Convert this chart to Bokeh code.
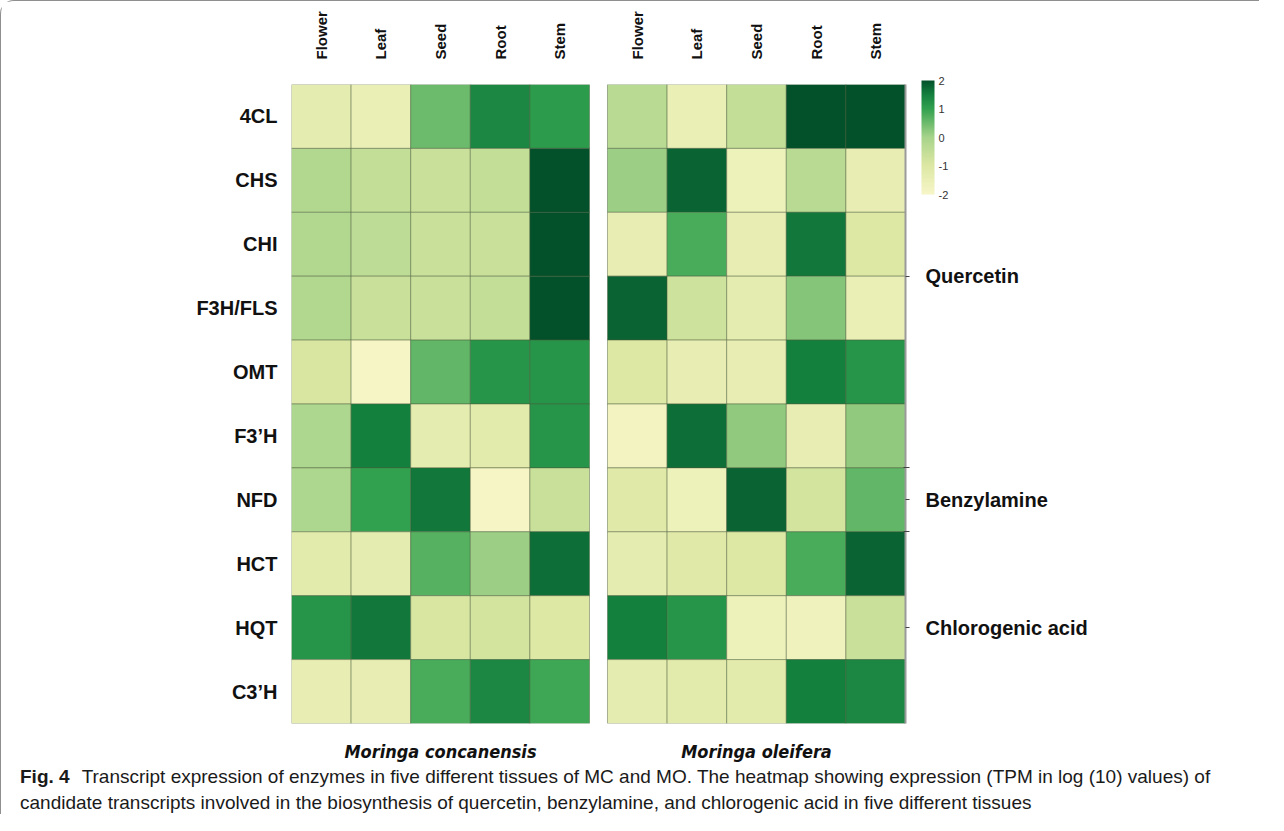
import numpy as np
from bokeh.plotting import figure
from bokeh.layouts import column
from bokeh.models import (Range1d, LinearAxis, FixedTicker, LinearColorMapper, ColorBar,
                          ColumnDataSource, Div)
from bokeh.embed import file_html
from bokeh.resources import INLINE

# ---------------- data ----------------
species = ["Moringa concanensis", "Moringa oleifera"]
tissues = ["Flower", "Leaf", "Seed", "Root", "Stem"]
enzymes = ["4CL", "CHS", "CHI", "F3H/FLS", "OMT", "F3\u2019H", "NFD", "HCT", "HQT", "C3\u2019H"]
pathways = ["Quercetin"] * 6 + ["Benzylamine"] + ["Chlorogenic acid"] * 3

# rows = enzymes, columns = tissues (Flower, Leaf, Seed, Root, Stem)
mc_values = [
    [-1.3, -1.5, 0.5, 1.4, 1.1],
    [-0.2, -0.5, -0.6, -0.5, 2.0],
    [-0.2, -0.4, -0.6, -0.6, 2.0],
    [-0.2, -0.6, -0.6, -0.5, 2.0],
    [-0.9, -1.9, 0.6, 1.2, 1.2],
    [-0.1, 1.5, -1.3, -1.2, 1.2],
    [-0.1, 1.0, 1.6, -1.9, -0.6],
    [-1.2, -1.3, 0.7, 0.1, 1.7],
    [1.2, 1.6, -0.9, -0.8, -1.0],
    [-1.4, -1.4, 0.8, 1.4, 0.9],
]
mo_values = [
    [-0.3, -1.5, -0.5, 2.0, 2.0],
    [0.1, 1.8, -1.6, -0.3, -1.4],
    [-1.4, 0.8, -1.4, 1.6, -1.0],
    [1.8, -0.7, -1.3, 0.3, -1.5],
    [-1.0, -1.4, -1.4, 1.5, 1.2],
    [-1.8, 1.7, 0.2, -1.4, 0.2],
    [-1.1, -1.6, 1.8, -0.8, 0.6],
    [-1.3, -1.1, -1.0, 0.8, 1.8],
    [1.5, 1.2, -1.6, -1.7, -0.6],
    [-1.3, -1.2, -1.2, 1.5, 1.4],
]
scale_ticks = [-2, -1, 0, 1, 2]
scale_labels = ["-2", "-1", "0", "1", "2"]

caption_bold = "Fig. 4"
caption_line1 = ("Transcript expression of enzymes in five different tissues of MC and MO. "
                 "The heatmap showing expression (TPM in log (10) values) of")
caption_line2 = ("candidate transcripts involved in the biosynthesis of quercetin, benzylamine, "
                 "and chlorogenic acid in five different tissues")

# ---------------- colour map ----------------
stops_v = [-2, -1, 0, 1, 1.5, 2]
stops_c = ["#f7f6c8", "#dde8a4", "#a8d48b", "#33a24f", "#15813f", "#02512a"]


def _rgb(h):
    return [int(h[i:i + 2], 16) for i in (1, 3, 5)]


grid = np.linspace(-2, 2, 256)
cols = np.array([_rgb(c) for c in stops_c], dtype=float)
palette = []
for g in grid:
    r = np.interp(g, stops_v, cols[:, 0])
    gg = np.interp(g, stops_v, cols[:, 1])
    b = np.interp(g, stops_v, cols[:, 2])
    palette.append("#%02x%02x%02x" % (int(round(r)), int(round(gg)), int(round(b))))

mapper = LinearColorMapper(palette=palette, low=-2, high=2)

# ---------------- table ----------------
nt = len(tissues)
n = len(enzymes)
gap = 0.302  # space between the two species panels, in cell widths

xs, ys, vs = [], [], []
for k, table in enumerate([mc_values, mo_values]):
    for ri in range(n):
        for ci in range(nt):
            xs.append(k * (nt + gap) + ci + 0.5)
            ys.append(n - ri - 0.5)
            vs.append(table[ri][ci])
src = ColumnDataSource(dict(x=xs, y=ys, v=vs))

col_centers = [k * (nt + gap) + ci + 0.5 for k in range(len(species)) for ci in range(nt)]
col_names = [t for _ in species for t in tissues]
panel_centers = [k * (nt + gap) + nt / 2 for k in range(len(species))]
row_centers = [n - ri - 0.5 for ri in range(n)]

grp_names, grp_centers, grp_bounds = [], [], []
start = 0
for i in range(1, n + 1):
    if i == n or pathways[i] != pathways[start]:
        grp_names.append(pathways[start])
        grp_centers.append(n - (start + i) / 2)
        if i < n:
            grp_bounds.append(n - i)
        start = i

p = figure(width=1258, height=763,
           x_range=Range1d(0, len(species) * nt + gap),
           y_range=Range1d(0, n),
           x_axis_location=None, y_axis_location=None,
           toolbar_location=None, output_backend="svg",
           min_border_left=290, min_border_right=354, min_border_top=83, min_border_bottom=36,
           outline_line_color=None, background_fill_color="white", border_fill_color="white",
           margin=0)
p.grid.visible = False

p.rect(x="x", y="y", width=1, height=1, source=src,
       fill_color={"field": "v", "transform": mapper},
       line_color="#4a5a3a", line_alpha=0.45, line_width=1)

FONT = "Liberation Sans, Arial, sans-serif"
NARROW = "'Liberation Sans Narrow', 'Arial Narrow', 'DejaVu Sans Condensed', sans-serif"


def style_axis(ax, size, standoff, style="bold", font=FONT):
    ax.axis_line_color = None
    ax.major_tick_line_color = None
    ax.minor_tick_line_color = None
    ax.major_label_text_font = font
    ax.major_label_text_font_style = style
    ax.major_label_text_font_size = size
    ax.major_label_text_color = "#111111"
    ax.major_label_standoff = standoff


# left axis: enzymes
ax_l = LinearAxis(ticker=FixedTicker(ticks=row_centers),
                  major_label_overrides=dict(zip(row_centers, enzymes)))
style_axis(ax_l, "20px", 8)
p.add_layout(ax_l, "left")

# top axis: tissues
ax_t = LinearAxis(ticker=FixedTicker(ticks=col_centers),
                  major_label_overrides=dict(zip(col_centers, col_names)))
style_axis(ax_t, "15px", 19)
ax_t.major_label_orientation = np.pi / 2
p.add_layout(ax_t, "above")

# bottom axis: species
ax_b = LinearAxis(ticker=FixedTicker(ticks=panel_centers),
                  major_label_overrides=dict(zip(panel_centers, species)))
style_axis(ax_b, "18px", 11, style="bold italic", font=NARROW)
p.add_layout(ax_b, "below")

# right axis: pathway groups
ax_r = LinearAxis(ticker=FixedTicker(ticks=grp_centers, minor_ticks=grp_bounds),
                  major_label_overrides=dict(zip(grp_centers, grp_names)))
style_axis(ax_r, "20px", 16)
ax_r.axis_line_color = "#9a9a9a"
ax_r.axis_line_width = 2
ax_r.major_tick_line_color = "#444444"
ax_r.major_tick_in = 0
ax_r.major_tick_out = 4
ax_r.minor_tick_line_color = "#444444"
ax_r.minor_tick_in = 2
ax_r.minor_tick_out = 4
p.add_layout(ax_r, "right")

# colour bar
cb = ColorBar(color_mapper=mapper, ticker=FixedTicker(ticks=scale_ticks),
              major_label_overrides=dict(zip(scale_ticks, scale_labels)),
              width=13, height=114, location=(630, 529), padding=0,
              major_label_text_font=FONT, major_label_text_font_size="11px",
              major_label_text_color="#333333",
              major_tick_line_color=None, bar_line_color=None, border_line_color=None,
              background_fill_color=None, label_standoff=4)
p.add_layout(cb, "center")

# caption
cap_html = (
    '<div style="font-family: \'Liberation Sans\', Arial, sans-serif; font-size: 19px; '
    'line-height: 26px; color: #1a1a1a; padding-left: 19px; white-space: nowrap;">'
    '<b>%s</b><span style="display:inline-block; width:12px"></span>%s<br>%s</div>'
    % (caption_bold, caption_line1, caption_line2)
)
cap = Div(text=cap_html, width=1258, height=50, margin=0)

page = column(p, cap, spacing=0, margin=0,
              styles={"border-top": "1.5px solid #8f8f8f",
                      "border-left": "1.5px solid #8f8f8f",
                      "border-top-left-radius": "14px"})

open("out.html", "w").write(file_html(page, INLINE))
